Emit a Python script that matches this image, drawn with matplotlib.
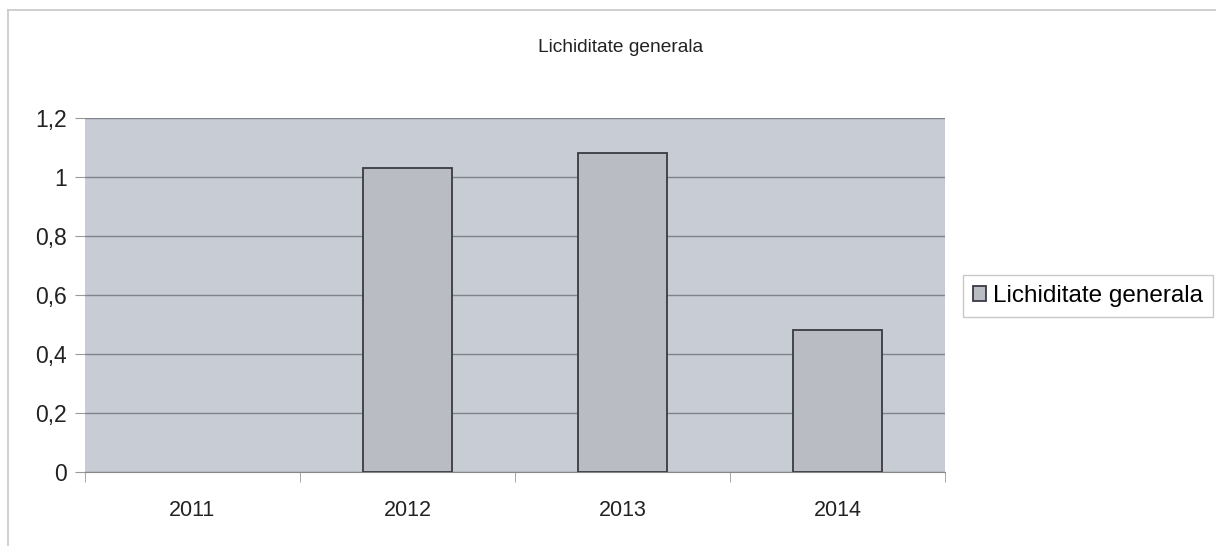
import matplotlib.pyplot as plt
import numpy as np
from matplotlib.lines import Line2D

plt.rcParams['font.family'] = ['Liberation Sans', 'DejaVu Sans']

# data (2011 has no bar)
years = ['2011', '2012', '2013', '2014']
lichiditate = [np.nan, 1.03, 1.08, 0.48]
yticks = [0, 0.2, 0.4, 0.6, 0.8, 1.0, 1.2]
ytick_labels = ['0', '0,2', '0,4', '0,6', '0,8', '1', '1,2']

fig = plt.figure(figsize=(12.16, 5.46), dpi=100)
ax = fig.add_axes([85/1216, 74/546, 860/1216, 354/546])
ax.set_facecolor('#c8ccd4')

x = np.arange(len(years))
ax.bar(x, lichiditate, width=0.41, color='#b9bcc3', edgecolor='#3a3a44',
       linewidth=1.3, label='Lichiditate generala', zorder=3)

ax.set_xlim(-0.5, len(years) - 0.5)
ax.set_ylim(0, 1.2)
ax.set_yticks(yticks)
ax.set_yticklabels(ytick_labels, fontsize=16.5, color='#222')
ax.set_xticks(x)
ax.set_xticklabels(years, fontsize=15.5, color='#222')
ax.set_xticks(np.arange(-0.5, len(years)), minor=True)
ax.tick_params(axis='x', which='major', length=0, pad=20)
ax.tick_params(axis='x', which='minor', length=7, color='#999', direction='out')
ax.tick_params(axis='y', length=7, color='#999', pad=6)
ax.yaxis.grid(True, color='#80838c', linewidth=1.0, zorder=1)
ax.set_axisbelow(True)
for s in ['top', 'right', 'left']:
    ax.spines[s].set_visible(False)
ax.spines['bottom'].set_color('#888')

fig.text(621/1216, 1 - 47/546, 'Lichiditate generala', ha='center', va='center',
         fontsize=13.8, color='#222')

leg = fig.legend(loc='center left', bbox_to_anchor=(963/1216, 1 - 296/546),
                 fontsize=17.5, frameon=True, fancybox=False, handlelength=0.55,
                 handleheight=0.55, handletextpad=0.3, borderpad=0.4,
                 borderaxespad=0)
leg.get_frame().set_edgecolor('#bbbbbb')
leg.get_frame().set_linewidth(1.0)

# outer chart border (left and top)
fig.add_artist(Line2D([8/1216, 8/1216], [0, 1 - 10/546], transform=fig.transFigure,
                      color='#c8c8c8', linewidth=1.2))
fig.add_artist(Line2D([8/1216, 1], [1 - 10/546, 1 - 10/546], transform=fig.transFigure,
                      color='#c8c8c8', linewidth=1.2))

fig.savefig('out.png', dpi=100)
